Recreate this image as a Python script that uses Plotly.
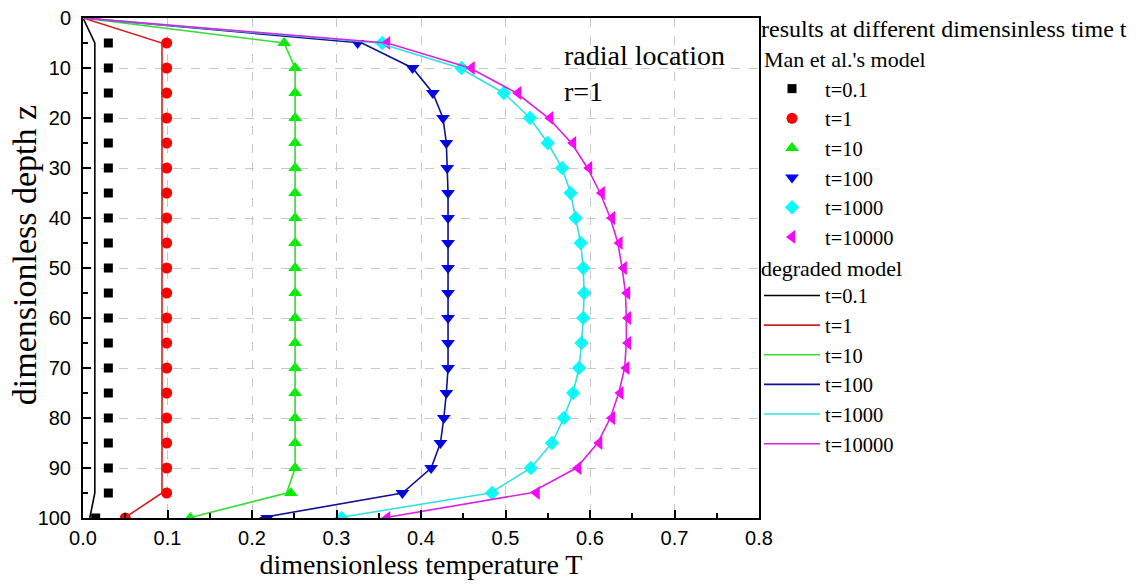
import plotly.graph_objects as go

# ---------------- data ----------------
z_marker = [5, 10, 15, 20, 25, 30, 35, 40, 45, 50, 55, 60, 65, 70, 75, 80, 85, 90, 95, 100]
z_line = [0, 5, 10, 15, 20, 25, 30, 35, 40, 45, 50, 55, 60, 65, 70, 75, 80, 85, 90, 95, 100]

labels = ["t=0.1", "t=1", "t=10", "t=100", "t=1000", "t=10000"]

# Man et al.'s model (markers)
man_t01 = [0.030, 0.030, 0.030, 0.030, 0.030, 0.030, 0.030, 0.030, 0.030, 0.030,
           0.030, 0.030, 0.030, 0.030, 0.030, 0.030, 0.030, 0.030, 0.030, 0.015]
man_t1 = [0.099, 0.099, 0.099, 0.099, 0.099, 0.099, 0.099, 0.099, 0.099, 0.099,
          0.099, 0.099, 0.099, 0.099, 0.099, 0.099, 0.099, 0.099, 0.099, 0.050]
man_t10 = [0.238, 0.251, 0.251, 0.251, 0.251, 0.251, 0.251, 0.251, 0.251, 0.251,
           0.251, 0.251, 0.251, 0.251, 0.251, 0.251, 0.251, 0.251, 0.246, 0.127]
man_t100 = [0.325, 0.390, 0.414, 0.426, 0.430, 0.431, 0.432, 0.432, 0.432, 0.432,
            0.432, 0.432, 0.432, 0.432, 0.430, 0.427, 0.423, 0.412, 0.378, 0.218]
man_t1000 = [0.354, 0.448, 0.498, 0.529, 0.550, 0.567, 0.577, 0.583, 0.589, 0.592,
             0.593, 0.592, 0.590, 0.587, 0.580, 0.569, 0.555, 0.530, 0.484, 0.306]
man_t10000 = [0.360, 0.460, 0.515, 0.553, 0.580, 0.599, 0.614, 0.626, 0.635, 0.640,
              0.644, 0.645, 0.645, 0.643, 0.636, 0.626, 0.611, 0.586, 0.537, 0.360]

# degraded model (lines)
deg_t01 = [0, 0.014, 0.014, 0.014, 0.014, 0.014, 0.014, 0.014, 0.014, 0.014, 0.014,
           0.014, 0.014, 0.014, 0.014, 0.014, 0.014, 0.014, 0.014, 0.014, 0.008]
deg_t1 = [0, 0.0935, 0.0935, 0.0935, 0.0935, 0.0935, 0.0935, 0.0935, 0.0935, 0.0935, 0.0935,
          0.0935, 0.0935, 0.0935, 0.0935, 0.0935, 0.0935, 0.0935, 0.0935, 0.0935, 0.049]
deg_t10 = [0, 0.238, 0.251, 0.251, 0.251, 0.251, 0.251, 0.251, 0.251, 0.251, 0.251,
           0.251, 0.251, 0.251, 0.251, 0.251, 0.251, 0.251, 0.251, 0.241, 0.125]
deg_t100 = [0, 0.330, 0.390, 0.414, 0.426, 0.430, 0.431, 0.432, 0.432, 0.432, 0.432,
            0.432, 0.432, 0.432, 0.432, 0.430, 0.427, 0.423, 0.412, 0.378, 0.209]
deg_t1000 = [0, 0.350, 0.446, 0.498, 0.529, 0.550, 0.567, 0.577, 0.583, 0.589, 0.592,
             0.593, 0.592, 0.590, 0.587, 0.580, 0.569, 0.555, 0.530, 0.482, 0.300]
deg_t10000 = [0, 0.360, 0.458, 0.513, 0.551, 0.578, 0.597, 0.612, 0.624, 0.633, 0.638,
              0.642, 0.643, 0.643, 0.641, 0.634, 0.624, 0.609, 0.584, 0.529, 0.355]

man_series = [man_t01, man_t1, man_t10, man_t100, man_t1000, man_t10000]
deg_series = [deg_t01, deg_t1, deg_t10, deg_t100, deg_t1000, deg_t10000]

marker_colors = ["#000000", "#ff0000", "#00ee00", "#0000ff", "#00ffff", "#ff00ff"]
marker_symbols = ["square", "circle", "triangle-up", "triangle-down", "diamond", "triangle-left"]
marker_sizes = [9, 11, 12, 12, 11, 12]
line_colors = ["#000000", "#d42020", "#33dd33", "#101090", "#33e0e0", "#dd22dd"]

serif = "Liberation Serif"
sans = "Liberation Sans"
LEG_FS = 20.5

fig = go.Figure()

for i, (vals, lab) in enumerate(zip(man_series, labels)):
    fig.add_trace(go.Scatter(
        x=vals, y=z_marker, mode="markers", name=lab, legend="legend",
        marker=dict(symbol=marker_symbols[i], color=marker_colors[i], size=marker_sizes[i],
                    line=dict(width=0)),
        legendgroup="man",
        legendgrouptitle=dict(text="Man et al.'s model",
                              font=dict(family=serif, size=22, color="black")),
    ))

for i, (vals, lab) in enumerate(zip(deg_series, labels)):
    fig.add_trace(go.Scatter(
        x=vals, y=z_line, mode="lines", name=lab, legend="legend2",
        line=dict(color=line_colors[i], width=1.6),
    ))

fig.add_annotation(
    x=0.567, y=11, xref="x", yref="y", xanchor="left", yanchor="middle",
    text="radial location<br>r=1", showarrow=False, align="left",
    font=dict(family=serif, size=28, color="black"),
)

# y-axis title
fig.add_annotation(
    x=-0.087, y=0.526, xref="paper", yref="paper", xanchor="center", yanchor="middle",
    text="dimensionless depth z", textangle=-90, showarrow=False,
    font=dict(family=serif, size=34, color="black"),
)

fig.update_layout(
    width=1140, height=587,
    margin=dict(l=83, r=381, t=18, b=69, autoexpand=False),
    paper_bgcolor="white", plot_bgcolor="white",
    showlegend=True,
    legend=dict(
        x=1.0, y=1.024, xanchor="left", yanchor="top",
        traceorder="grouped", tracegroupgap=0,
        font=dict(family=serif, size=LEG_FS, color="black"),
        title=dict(text="results at different dimensinless time t",
                   font=dict(family=serif, size=24, color="black")),
        itemwidth=56, bgcolor="rgba(0,0,0,0)", borderwidth=0,
    ),
    legend2=dict(
        x=1.0, y=0.542, xanchor="left", yanchor="top",
        font=dict(family=serif, size=LEG_FS, color="black"),
        title=dict(text="degraded model",
                   font=dict(family=serif, size=22, color="black")),
        itemwidth=56, bgcolor="rgba(0,0,0,0)", borderwidth=0,
    ),
    xaxis=dict(
        range=[0, 0.8], dtick=0.1, tick0=0, tickformat=".1f",
        showline=True, linecolor="black", linewidth=2, mirror=True,
        ticks="inside", ticklen=8, tickwidth=1.5, tickcolor="black",
        minor=dict(ticks="inside", ticklen=5, dtick=0.05, tickcolor="black", showgrid=False),
        showgrid=True, gridcolor="#c8c8c8", griddash="dash", gridwidth=1,
        zeroline=False, ticklabelstandoff=1,
        tickfont=dict(family=sans, size=20, color="black"),
        title=dict(text="dimensionless temperature T", font=dict(family=serif, size=28, color="black"),
                   standoff=4),
    ),
    yaxis=dict(
        range=[100, 0], dtick=10, tick0=0,
        showline=True, linecolor="black", linewidth=2, mirror=True,
        ticks="inside", ticklen=8, tickwidth=1.5, tickcolor="black",
        minor=dict(ticks="inside", ticklen=5, dtick=5, tickcolor="black", showgrid=False),
        showgrid=True, gridcolor="#c8c8c8", griddash="dash", gridwidth=1,
        zeroline=False, ticklabelstandoff=6,
        tickfont=dict(family=sans, size=20, color="black"),
    ),
)

fig.write_html("out.html")
